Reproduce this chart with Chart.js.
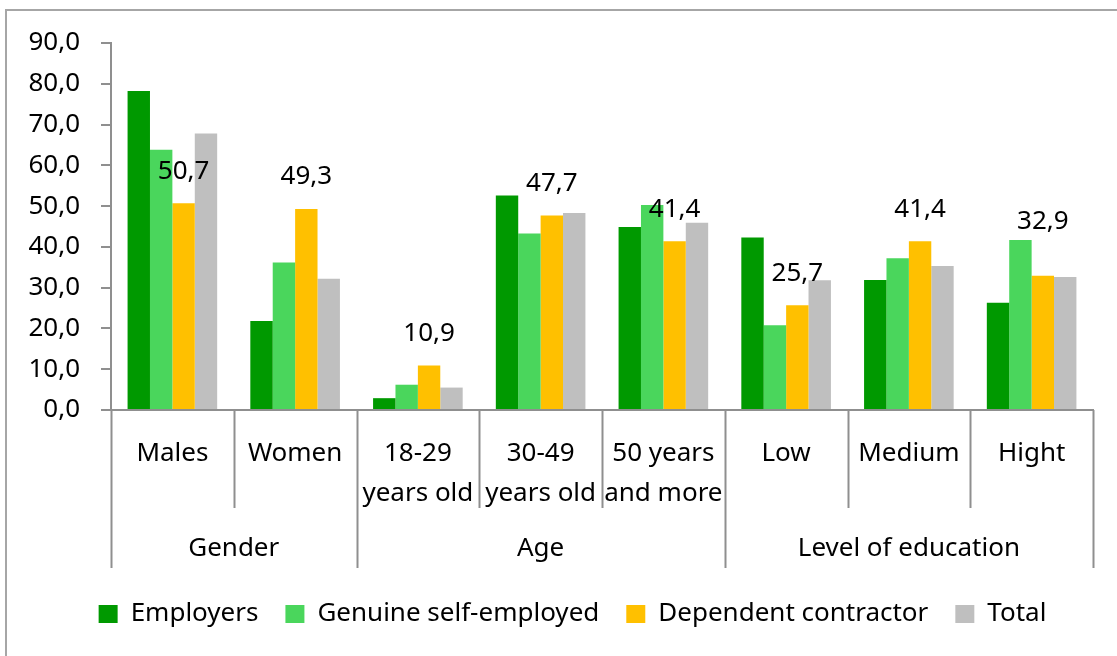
<!DOCTYPE html>
<html>
<head>
<meta charset="utf-8">
<script src="https://cdn.jsdelivr.net/npm/chart.js@4.4.1/dist/chart.umd.min.js"></script>
<style>
  html, body { margin: 0; padding: 0; background: #fff; }
  #wrap { width: 1117px; height: 656px; position: relative; }
</style>
</head>
<body>
<div id="wrap"><canvas id="chart" width="1117" height="656"></canvas></div>
<script>
// categories (second line of a label goes in the inner array)
const categories = [
    ['Males'], ['Women'],
    ['18-29', 'years old'], ['30-49', 'years old'], ['50 years', 'and more'],
    ['Low'], ['Medium'], ['Hight']
];
const groups = ['Gender', 'Age', 'Level of education'];
const groupSizes = [2, 3, 3];

const employers = [78.2, 21.8, 2.9, 52.6, 44.9, 42.3, 31.9, 26.3];
const selfEmployed = [63.8, 36.2, 6.2, 43.3, 50.3, 20.8, 37.2, 41.7];
const contractor = [50.7, 49.3, 10.9, 47.7, 41.4, 25.7, 41.4, 32.9];
const total = [67.8, 32.2, 5.5, 48.3, 45.9, 31.8, 35.3, 32.6];

const yTicks = [0, 10, 20, 30, 40, 50, 60, 70, 80, 90];

const FONT = "'Noto Sans', 'Open Sans', sans-serif";
const FONT_SIZE = 26;
const AXIS_GREY = '#8f8f8f';
// the last label was lifted clear of the green bar in the original
const labelLift = [0, 0, 0, 0, 0, 0, 0, 22];

function fmt(v) {
    return v.toFixed(1).replace('.', ',');
}

// frame, category separators and group labels
const decorPlugin = {
    id: 'decor',
    afterDraw(chart) {
        const ctx = chart.ctx;
        const x = chart.scales.x;
        const area = chart.chartArea;
        const base = area.bottom;

        ctx.save();
        // outer frame
        ctx.strokeStyle = '#a6a6a6';
        ctx.lineWidth = 2;
        ctx.strokeRect(6, 10, 1200, 800);

        // boundaries between categories
        let bounds = [area.left];
        for (let i = 1; i < categories.length; i++) {
            bounds.push((x.getPixelForValue(i - 1) + x.getPixelForValue(i)) / 2);
        }
        bounds.push(area.right);

        let groupEdges = [0];
        groupSizes.reduce((acc, n) => { acc += n; groupEdges.push(acc); return acc; }, 0);

        ctx.strokeStyle = AXIS_GREY;
        ctx.lineWidth = 2;
        bounds.forEach((bx, i) => {
            const isGroup = groupEdges.includes(i);
            ctx.beginPath();
            ctx.moveTo(Math.round(bx) + 0.5, base);
            ctx.lineTo(Math.round(bx) + 0.5, isGroup ? base + 158 : base + 98);
            ctx.stroke();
        });

        ctx.fillStyle = '#000';
        ctx.font = FONT_SIZE + 'px ' + FONT;
        ctx.textAlign = 'center';
        ctx.textBaseline = 'middle';
        groups.forEach((g, i) => {
            const l = bounds[groupEdges[i]];
            const r = bounds[groupEdges[i + 1]];
            ctx.fillText(g, (l + r) / 2, base + 139);
        });

        // value labels on the contractor series
        const meta = chart.getDatasetMeta(2);
        meta.data.forEach((bar, i) => {
            ctx.fillText(fmt(contractor[i]), bar.x, bar.y - 32 - labelLift[i]);
        });
        ctx.restore();
    }
};

const ctx = document.getElementById('chart').getContext('2d');

new Chart(ctx, {
    type: 'bar',
    data: {
        labels: categories,
        datasets: [
            { label: 'Employers', data: employers, backgroundColor: '#009900' },
            { label: 'Genuine self-employed', data: selfEmployed, backgroundColor: '#4ad65c' },
            { label: 'Dependent contractor', data: contractor, backgroundColor: '#ffc000' },
            { label: 'Total', data: total, backgroundColor: '#bfbfbf' }
        ]
    },
    options: {
        responsive: false,
        animation: false,
        categoryPercentage: 0.73,
        barPercentage: 1.0,
        layout: { padding: { top: 43, right: 0, left: 28, bottom: 19 } },
        plugins: {
            legend: {
                position: 'bottom',
                labels: {
                    color: '#000',
                    font: { family: FONT, size: FONT_SIZE },
                    boxWidth: 19,
                    boxHeight: 18,
                    padding: 27
                }
            },
            tooltip: { enabled: false }
        },
        scales: {
            x: {
                grid: { display: false },
                border: { display: true, color: AXIS_GREY, width: 2 },
                ticks: {
                    color: '#000',
                    font: { family: FONT, size: FONT_SIZE, lineHeight: 40 / FONT_SIZE },
                    padding: 16,
                    maxRotation: 0,
                    autoSkip: false
                },
                afterFit(scale) { scale.height = 164; }
            },
            y: {
                min: 0,
                max: 90,
                afterBuildTicks(scale) { scale.ticks = yTicks.map(v => ({ value: v })); },
                grid: { drawOnChartArea: false, tickLength: 10, color: AXIS_GREY, lineWidth: 2 },
                border: { display: true, color: AXIS_GREY, width: 2 },
                ticks: {
                    color: '#000',
                    font: { family: FONT, size: FONT_SIZE },
                    padding: 21,
                    callback: function(value) { return fmt(value); }
                },
                afterFit(scale) { scale.width = 83; }
            },
            // empty margin on the right, keeps the legend centred like the original
            yRight: {
                position: 'right',
                grid: { display: false },
                border: { display: false },
                ticks: { display: false },
                afterFit(scale) { scale.width = 24; }
            }
        }
    },
    plugins: [decorPlugin]
});
</script>
</body>
</html>
